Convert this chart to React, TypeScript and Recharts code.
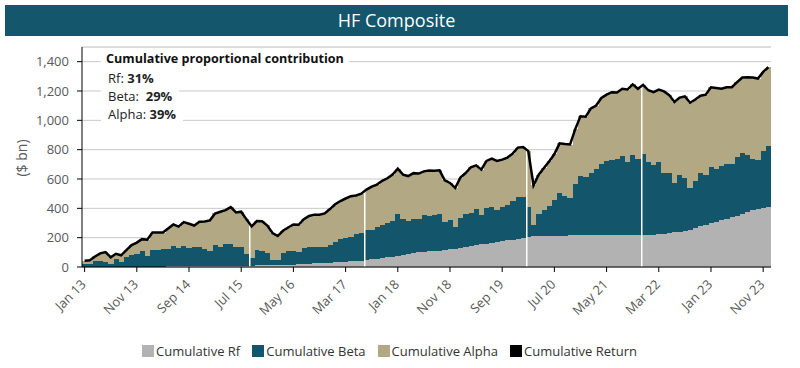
import React from "react";
import {
  ComposedChart,
  Bar,
  Line,
  XAxis,
  YAxis,
  CartesianGrid,
} from "recharts";

const FONT = "'Open Sans', 'Noto Sans', sans-serif";

const MONTH_NAMES = ["Jan", "Feb", "Mar", "Apr", "May", "Jun", "Jul", "Aug", "Sep", "Oct", "Nov", "Dec"];

// cumulative components, $bn, Jan 13 .. Dec 23
const rf = [
  0, 0, 1, 1, 1, 1, 1, 1, 2, 2, 2, 2, 2,
  3, 3, 3, 4, 4, 4, 5, 5, 5, 6, 6, 6,
  7, 7, 8, 8, 9, 9,
  10, 10, 11, 11, 12,
  13, 14, 15, 16, 17,
  19, 21, 23, 25, 27,
  29, 30, 32, 34, 36,
  38, 40, 43,
  48, 52, 56, 61, 66, 70, 74,
  79, 86, 93, 100, 104,
  106, 108, 111, 115, 120, 124, 129, 137, 145, 150, 156, 160, 165, 171, 177, 181, 184, 190, 197, 206, 211, 211,
  213, 213, 214, 214, 214, 215, 215, 215, 216, 216, 216, 217, 217, 218, 218, 218, 218, 218, 218, 219, 219, 220,
  222, 224, 231, 236, 238, 245, 255, 266, 278, 286, 297, 308, 318, 329, 340, 351, 362, 374, 386, 395, 404, 412,
];

const beta = [
  18, 22, 37, 42, 33, 19, 51, 35, 64, 77,
  86, 105, 73, 113, 113, 117, 121, 139, 125, 138,
  124, 129, 130, 119, 106, 143, 131, 148, 148, 129,
  129, 80, 50, 105, 99, 83, 35, 34, 83, 93,
  92, 83, 109, 113, 111, 107, 109, 120, 138, 154,
  161, 168, 184, 190, 204, 200, 214, 224, 235, 245,
  286, 250, 229, 233, 226, 249, 244, 248, 251, 193,
  200, 150, 202, 223, 220, 244, 197, 243, 245, 216,
  233, 245, 267, 288, 277, 204, 77, 149, 179, 206,
  246, 291, 269, 254, 354, 404, 398, 425, 455, 483,
  506, 514, 521, 537, 496, 543, 519, 549, 495, 473,
  492, 415, 408, 335, 387, 365, 284, 319, 366, 339,
  383, 358, 371, 373, 362, 397, 413, 387, 353, 332,
  385, 413,
];

const alpha = [
  24, 24, 34, 50, 68, 46, 38, 44, 49, 71,
  78, 83, 111, 119, 119, 115, 138, 147, 146, 163,
  166, 149, 172, 185, 206, 215, 239, 232, 252, 234,
  239, 235, 217, 197, 202, 188, 184, 163, 149, 160,
  181, 186, 196, 212, 221, 223, 227, 245, 258, 262,
  270, 277, 264, 267, 276, 296, 292, 303, 304, 315,
  310, 301, 305, 314, 311, 299, 308, 301, 297, 283,
  253, 265, 279, 281, 315, 299, 311, 320, 329, 336,
  322, 320, 322, 336, 344, 380, 269, 270, 283, 301,
  310, 338, 355, 366, 371, 408, 411, 440, 430, 452,
  452, 460, 451, 460, 496, 484, 478, 474, 491, 499,
  496, 558, 533, 554, 530, 553, 581, 557, 524, 550,
  545, 554, 526, 523, 524, 512, 517, 533, 553, 558,
  541, 537,
];

// months where the series is split (white divider)
const breakMonths = ["Sep 15", "Jul 17", "Feb 20", "Dec 21"];

const yTicks = [0, 200, 400, 600, 800, 1000, 1200, 1400];
const yMinor = [100, 300, 500, 700, 900, 1100, 1300];

const months = rf.map((_, i) => `${MONTH_NAMES[i % 12]} ${13 + Math.floor(i / 12)}`);

const data = months.map((m, i) => ({
  month: m,
  rf: rf[i],
  beta: beta[i],
  alpha: alpha[i],
  ret: rf[i] + beta[i] + alpha[i],
  brk: breakMonths.includes(m),
}));

const COLORS = {
  rf: "#b2b2b2",
  beta: "#13556b",
  alpha: "#b2a883",
  ret: "#000000",
  title: "#14566b",
  axisText: "#595959",
};

const legendItems = [
  { label: "Cumulative Rf", color: COLORS.rf },
  { label: "Cumulative Beta", color: COLORS.beta },
  { label: "Cumulative Alpha", color: COLORS.alpha },
  { label: "Cumulative Return", color: COLORS.ret },
];

// recharts truncates bar width inside the band; stretch a touch and snap to pixels
// so neighbouring months meet without seams
function StackShape(props: any) {
  const { x, y, width, height, fill, payload } = props;
  if (!height || height <= 0) return null;
  const x0 = Math.round(x);
  const x1 = Math.round(x + width + 0.5);
  const y0 = Math.round(y);
  const y1 = Math.round(y + height);
  if (y1 <= y0) return null;
  return (
    <g>
      <rect x={x0} y={y0} width={x1 - x0} height={y1 - y0} fill={fill} shapeRendering="crispEdges" />
      {payload && payload.brk ? (
        <rect x={x0} y={y0} width={1.5} height={y1 - y0} fill="#ffffff" />
      ) : null}
    </g>
  );
}

function MonthTick(props: any) {
  const { x, y, payload } = props;
  return (
    <g transform={`translate(${x - 1},${y + 8})`}>
      <text
        transform="rotate(-45)"
        textAnchor="end"
        dy="0.35em"
        fontSize={13}
        fill={COLORS.axisText}
        fontFamily={FONT}
      >
        {payload.value}
      </text>
    </g>
  );
}

export default function App() {
  return (
    <div style={{ position: "absolute", left: 0, top: 0, width: 800, height: 368, background: "#fff", fontFamily: FONT }}>
      <div
        style={{
          position: "absolute",
          left: 5,
          top: 5,
          width: 783,
          height: 31,
          background: COLORS.title,
          color: "#fff",
          fontSize: 18,
          lineHeight: "31px",
          textAlign: "center",
        }}
      >
        HF Composite
      </div>

      <div style={{ position: "absolute", left: 0, top: 0 }}>
        <ComposedChart
          width={800}
          height={368}
          data={data}
          margin={{ top: 47, right: 29, left: 0, bottom: 41 }}
          barCategoryGap={0}
          style={{ fontFamily: FONT }}
        >
          <CartesianGrid yAxisId="minor" horizontal vertical={false} stroke="#e2e2e2" />
          <CartesianGrid horizontal vertical={false} stroke="#c8c8c8" />
          <XAxis
            dataKey="month"
            interval={9}
            tick={<MonthTick />}
            tickLine={{ stroke: "#000" }}
            axisLine={{ stroke: "#000" }}
            tickSize={5}
            height={60}
          />
          <YAxis
            domain={[0, 1500]}
            ticks={yTicks}
            width={82}
            tickFormatter={(v) => v.toLocaleString("en-US")}
            tick={{ fill: COLORS.axisText, fontSize: 13 }}
            tickLine={{ stroke: "#000" }}
            axisLine={{ stroke: "#000" }}
            tickSize={5}
            tickMargin={8}
          />
          <YAxis yAxisId="minor" hide domain={[0, 1500]} ticks={yMinor} />
          <Bar dataKey="rf" stackId="a" fill={COLORS.rf} shape={<StackShape />} isAnimationActive={false} />
          <Bar dataKey="beta" stackId="a" fill={COLORS.beta} shape={<StackShape />} isAnimationActive={false} />
          <Bar dataKey="alpha" stackId="a" fill={COLORS.alpha} shape={<StackShape />} isAnimationActive={false} />
          <Line
            type="linear"
            dataKey="ret"
            stroke={COLORS.ret}
            strokeWidth={2.5}
            dot={false}
            isAnimationActive={false}
          />
        </ComposedChart>
      </div>

      <div
        style={{
          position: "absolute",
          left: 21,
          top: 158,
          transform: "translate(-50%, -50%) rotate(-90deg)",
          fontSize: 14,
          color: COLORS.axisText,
          whiteSpace: "nowrap",
        }}
      >
        ($ bn)
      </div>

      <div style={{ position: "absolute", left: 101, top: 50, fontSize: 13, lineHeight: "18px", color: "#222" }}>
        <div style={{ display: "table", background: "#fff", padding: "0 5px", fontWeight: 700, fontSize: 12.6, color: "#111" }}>
          Cumulative proportional contribution
        </div>
        <div style={{ display: "table", background: "#fff", padding: "1px 7px 0" }}>
          Rf: <b>31%</b>
        </div>
        <div style={{ display: "table", background: "#fff", padding: "0 7px" }}>
          Beta:&nbsp; <b>29%</b>
        </div>
        <div style={{ display: "table", background: "#fff", padding: "0 7px" }}>
          Alpha: <b>39%</b>
        </div>
      </div>

      <div
        style={{
          position: "absolute",
          left: 0,
          top: 343,
          width: 800,
          display: "flex",
          justifyContent: "center",
          fontSize: 13,
          lineHeight: "16px",
          color: "#333",
        }}
      >
        <div style={{ display: "flex", marginLeft: -9 }}>
          {legendItems.map((it) => (
            <div key={it.label} style={{ display: "flex", alignItems: "center", marginRight: 12 }}>
              <span style={{ display: "inline-block", width: 12, height: 12, background: it.color, marginRight: 2 }} />
              <span>{it.label}</span>
            </div>
          ))}
        </div>
      </div>
    </div>
  );
}
